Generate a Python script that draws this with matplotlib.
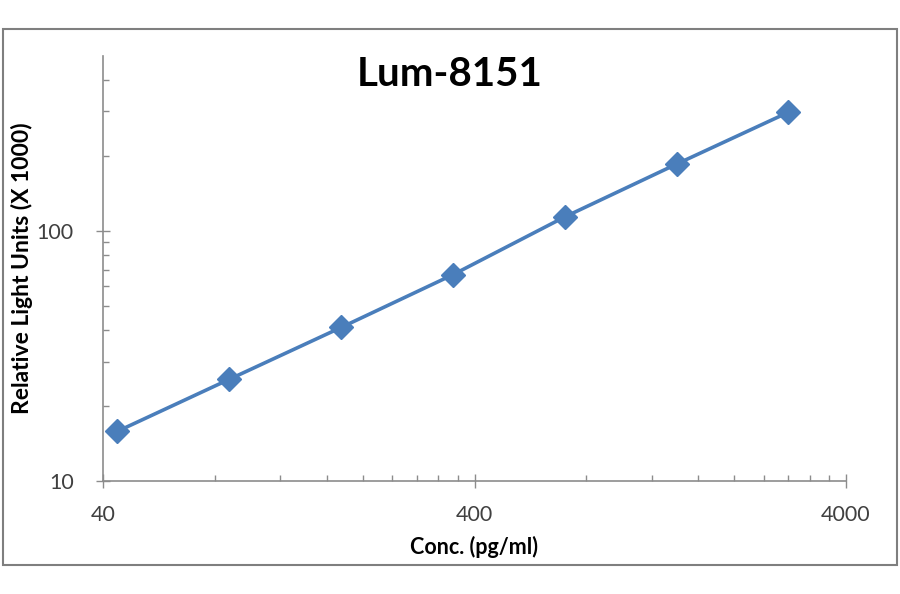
import matplotlib.pyplot as plt
from matplotlib.ticker import FixedLocator, NullFormatter, FixedFormatter
from matplotlib.patches import Rectangle

# standard curve data
conc = [43.75, 87.5, 175, 350, 700, 1400, 2800]
rlu = [15.8, 25.5, 41.1, 66.8, 113.7, 184.9, 297.9]

x_major = [40, 400, 4000]
x_minor = [40 * k for k in range(2, 10)] + [400 * k for k in range(2, 10)]
y_major = [10, 100]
y_minor = [10 * k for k in range(2, 10)] + [100 * k for k in range(2, 5)]

plt.rcParams['font.family'] = ['Lato', 'DejaVu Sans']
axis_col = '#8c8c8c'
text_col = '#404040'

fig = plt.figure(figsize=(9, 5.94), dpi=100)
fig.add_artist(Rectangle((0.003, 1 - 565 / 594), 0.994, 536 / 594, transform=fig.transFigure,
                         fill=False, edgecolor='#7f7f7f', linewidth=1.5))

ax = fig.add_axes([103 / 900, 1 - 481 / 594, (846 - 103) / 900, (481 - 56) / 594])
ax.plot(conc, rlu, color='#4a7ebb', linewidth=2.6, marker='D', markersize=12)

ax.set_xscale('log')
ax.set_yscale('log')
ax.set_xlim(40, 4000)
ax.set_ylim(10, 500)

ax.xaxis.set_major_locator(FixedLocator(x_major))
ax.xaxis.set_major_formatter(FixedFormatter([str(v) for v in x_major]))
ax.xaxis.set_minor_locator(FixedLocator(x_minor))
ax.xaxis.set_minor_formatter(NullFormatter())
ax.yaxis.set_major_locator(FixedLocator(y_major))
ax.yaxis.set_major_formatter(FixedFormatter([str(v) for v in y_major]))
ax.yaxis.set_minor_locator(FixedLocator(y_minor))
ax.yaxis.set_minor_formatter(NullFormatter())

ax.tick_params(which='major', direction='inout', length=10, width=1, color=axis_col,
               labelsize=15.5, labelcolor=text_col)
ax.tick_params(axis='x', which='major', pad=12)
ax.tick_params(axis='y', which='major', pad=16)
ax.tick_params(which='minor', direction='in', length=4, width=1, color=axis_col)

for s in ['top', 'right']:
    ax.spines[s].set_visible(False)
for s in ['left', 'bottom']:
    ax.spines[s].set_color(axis_col)
    ax.spines[s].set_linewidth(1.2)

ax.set_xlabel('Conc. (pg/ml)', fontsize=15.5, fontweight='bold', color='black')
ax.xaxis.set_label_coords(0.5, -(536 - 481) / 425)
ax.set_ylabel('Relative Light Units (X 1000)', fontsize=16.5, fontweight='bold', color='black')
ax.yaxis.set_label_coords(-(103 - 33) / 743, 0.5)
fig.text(0.5, 1 - 75 / 594, 'Lum-8151', ha='center', va='center', fontsize=29, fontweight='bold')

fig.savefig('out.png', dpi=100)
